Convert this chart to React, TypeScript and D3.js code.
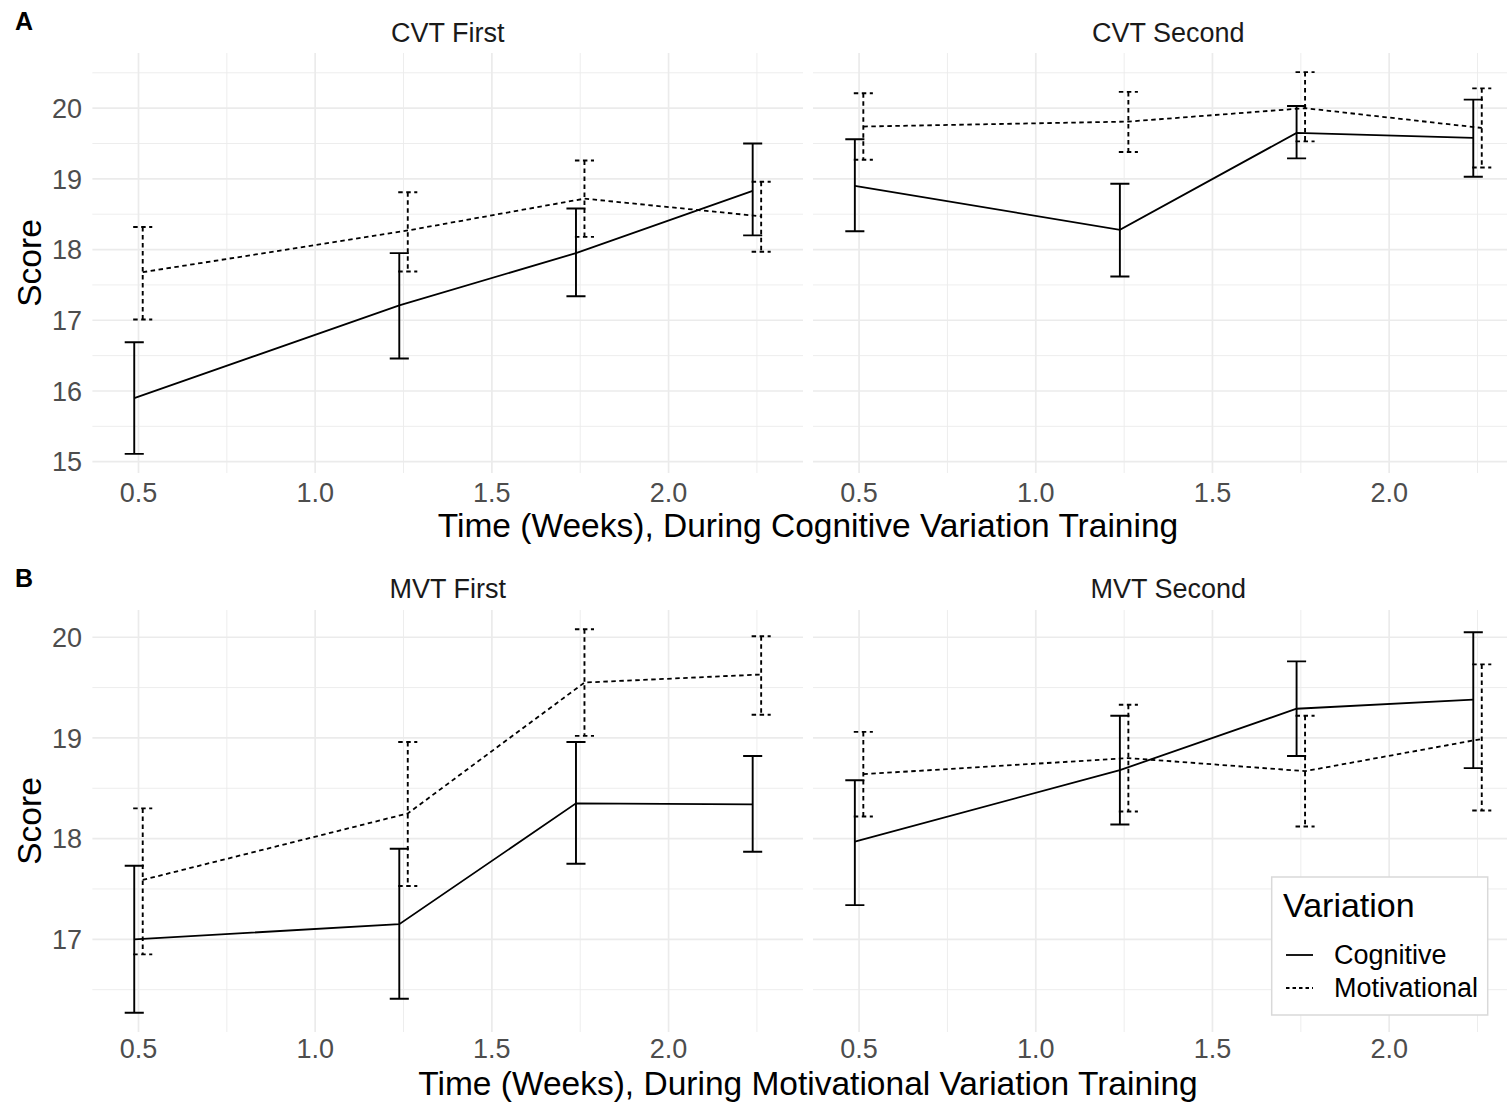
import React from "react";
import * as d3 from "d3";

// ---- Data ----
const times = [0.5, 1.25, 1.75, 2.25];

const cvtFirstCogMean = [15.9, 17.21, 17.95, 18.83];
const cvtFirstCogLow = [15.11, 16.46, 17.34, 18.2];
const cvtFirstCogHigh = [16.69, 17.95, 18.58, 19.5];
const cvtFirstMotMean = [17.68, 18.27, 18.72, 18.47];
const cvtFirstMotLow = [17.01, 17.69, 18.18, 17.97];
const cvtFirstMotHigh = [18.32, 18.81, 19.26, 18.96];

const cvtSecondCogMean = [18.9, 18.28, 19.65, 19.58];
const cvtSecondCogLow = [18.26, 17.62, 19.29, 19.03];
const cvtSecondCogHigh = [19.56, 18.93, 20.03, 20.12];
const cvtSecondMotMean = [19.74, 19.81, 20.0, 19.72];
const cvtSecondMotLow = [19.27, 19.38, 19.53, 19.16];
const cvtSecondMotHigh = [20.21, 20.23, 20.51, 20.28];

const mvtFirstCogMean = [17.0, 17.15, 18.35, 18.34];
const mvtFirstCogLow = [16.27, 16.41, 17.75, 17.87];
const mvtFirstCogHigh = [17.73, 17.9, 18.96, 18.82];
const mvtFirstMotMean = [17.59, 18.25, 19.55, 19.63];
const mvtFirstMotLow = [16.85, 17.53, 19.02, 19.23];
const mvtFirstMotHigh = [18.3, 18.96, 20.08, 20.01];

const mvtSecondCogMean = [17.97, 18.68, 19.29, 19.38];
const mvtSecondCogLow = [17.34, 18.14, 18.82, 18.7];
const mvtSecondCogHigh = [18.58, 19.22, 19.76, 20.05];
const mvtSecondMotMean = [18.64, 18.8, 18.67, 18.99];
const mvtSecondMotLow = [18.22, 18.27, 18.12, 18.28];
const mvtSecondMotHigh = [19.06, 19.33, 19.22, 19.73];

const seriesNames = ["Cognitive", "Motivational"];
const rowLabels = ["A", "B"];
const rowTitles = [
  "Time (Weeks), During Cognitive Variation Training",
  "Time (Weeks), During Motivational Variation Training",
];
const facetTitles = [
  ["CVT First", "CVT Second"],
  ["MVT First", "MVT Second"],
];
const legendTitle = "Variation";
const yTitle = "Score";

// ---- Layout ----
const W = 1507;
const H = 1104;
const FONT = "'Liberation Sans', Arial, Helvetica, sans-serif";
const panelX = [
  [92.4, 803],
  [813, 1523.6],
];
const rowY = [
  [53, 473],
  [610, 1032],
];
const tickBaseline = [502, 1058];
const titleBaseline = [537, 1095];
const DODGE = 0.012;
const CAP = 0.027;
const GRID = "#EBEBEB";

type Series = { mean: number[]; low: number[]; high: number[] };

const rows: Series[][][] = [
  [
    [
      { mean: cvtFirstCogMean, low: cvtFirstCogLow, high: cvtFirstCogHigh },
      { mean: cvtFirstMotMean, low: cvtFirstMotLow, high: cvtFirstMotHigh },
    ],
    [
      { mean: cvtSecondCogMean, low: cvtSecondCogLow, high: cvtSecondCogHigh },
      { mean: cvtSecondMotMean, low: cvtSecondMotLow, high: cvtSecondMotHigh },
    ],
  ],
  [
    [
      { mean: mvtFirstCogMean, low: mvtFirstCogLow, high: mvtFirstCogHigh },
      { mean: mvtFirstMotMean, low: mvtFirstMotLow, high: mvtFirstMotHigh },
    ],
    [
      { mean: mvtSecondCogMean, low: mvtSecondCogLow, high: mvtSecondCogHigh },
      { mean: mvtSecondMotMean, low: mvtSecondMotLow, high: mvtSecondMotHigh },
    ],
  ],
];

function expand(lo: number, hi: number): [number, number] {
  const p = (hi - lo) * 0.05;
  return [lo - p, hi + p];
}

const xDomain = expand(
  (d3.min(times) as number) - DODGE - CAP,
  (d3.max(times) as number) + DODGE + CAP
);

const dashFor = (si: number) => (si === 1 ? "4.5,3.5" : undefined);

function Panel({ row, col }: { row: number; col: number }) {
  const data = rows[row];
  const allLow = data.flat().flatMap((s) => s.low);
  const allHigh = data.flat().flatMap((s) => s.high);
  const yDomain = expand(d3.min(allLow) as number, d3.max(allHigh) as number);
  const [x0, x1] = panelX[col];
  const [y0, y1] = rowY[row];
  const x = d3.scaleLinear().domain(xDomain).range([x0, x1]);
  const y = d3.scaleLinear().domain(yDomain).range([y1, y0]);

  const xMajor = x.ticks(5);
  const xMinor = d3
    .range(Math.ceil(xDomain[0] * 4) / 4, xDomain[1], 0.25)
    .filter((v) => !xMajor.some((m) => Math.abs(m - v) < 1e-6));
  const yMajor = y.ticks(5).filter((v) => Number.isInteger(v));
  const yMinor = d3
    .range(Math.ceil(yDomain[0] * 2) / 2, yDomain[1], 0.5)
    .filter((v) => !yMajor.some((m) => Math.abs(m - v) < 1e-6));

  const series = data[col];

  return (
    <g>
      {/* grid */}
      {yMinor.map((v) => (
        <line key={"ym" + v} x1={x0} x2={x1} y1={y(v)} y2={y(v)} stroke={GRID} strokeWidth={0.9} />
      ))}
      {xMinor.map((v) => (
        <line key={"xm" + v} x1={x(v)} x2={x(v)} y1={y0} y2={y1} stroke={GRID} strokeWidth={0.9} />
      ))}
      {yMajor.map((v) => (
        <line key={"yM" + v} x1={x0} x2={x1} y1={y(v)} y2={y(v)} stroke={GRID} strokeWidth={1.7} />
      ))}
      {xMajor.map((v) => (
        <line key={"xM" + v} x1={x(v)} x2={x(v)} y1={y0} y2={y1} stroke={GRID} strokeWidth={1.7} />
      ))}

      {/* lines */}
      {series.map((s, si) => {
        const off = si === 0 ? -DODGE : DODGE;
        const l = d3
          .line<number>()
          .x((_, i) => x(times[i] + off))
          .y((d) => y(d));
        return (
          <path
            key={"l" + si}
            d={l(s.mean) || ""}
            fill="none"
            stroke="#000"
            strokeWidth={1.8}
            strokeDasharray={dashFor(si)}
          />
        );
      })}

      {/* error bars */}
      {series.map((s, si) => {
        const off = si === 0 ? -DODGE : DODGE;
        return times.map((t, i) => {
          const xc = x(t + off);
          const xl = x(t + off - CAP);
          const xr = x(t + off + CAP);
          const yt = y(s.high[i]);
          const yb = y(s.low[i]);
          const d = `M${xl},${yt}H${xr}M${xc},${yt}V${yb}M${xl},${yb}H${xr}`;
          return (
            <path
              key={"e" + si + "-" + i}
              d={d}
              fill="none"
              stroke="#000"
              strokeWidth={1.9}
              strokeDasharray={dashFor(si)}
            />
          );
        });
      })}

      {/* strip title */}
      <text
        x={(x0 + x1) / 2}
        y={row === 0 ? 41.7 : 598}
        textAnchor="middle"
        fontSize={27}
        fill="#1A1A1A"
        fontFamily={FONT}
      >
        {facetTitles[row][col]}
      </text>

      {/* x tick labels */}
      {xMajor.map((v) => (
        <text
          key={"xt" + v}
          x={x(v)}
          y={tickBaseline[row]}
          textAnchor="middle"
          fontSize={27}
          fill="#4D4D4D"
          fontFamily={FONT}
        >
          {d3.format(".1f")(v)}
        </text>
      ))}

      {/* y tick labels (left panel only) */}
      {col === 0 &&
        yMajor.map((v) => (
          <text
            key={"yt" + v}
            x={82}
            y={y(v)}
            dy="0.36em"
            textAnchor="end"
            fontSize={27}
            fill="#4D4D4D"
            fontFamily={FONT}
          >
            {v}
          </text>
        ))}
    </g>
  );
}

export default function App() {
  const legendX = 1271.7;
  const legendY = 877;
  return (
    <svg
      width={W}
      height={H}
      viewBox={`0 0 ${W} ${H}`}
      style={{ position: "absolute", left: 0, top: 0, background: "#fff" }}
    >
      <rect x={0} y={0} width={W} height={H} fill="#fff" />
      {[0, 1].map((r) => (
        <g key={"row" + r}>
          <Panel row={r} col={0} />
          <Panel row={r} col={1} />
          <text
            x={15}
            y={r === 0 ? 30 : 587}
            fontSize={25}
            fontWeight="bold"
            fontFamily={FONT}
            fill="#000"
          >
            {rowLabels[r]}
          </text>
          <text
            x={(panelX[0][0] + panelX[1][1]) / 2}
            y={titleBaseline[r]}
            textAnchor="middle"
            fontSize={33.5}
            fontFamily={FONT}
            fill="#000"
          >
            {rowTitles[r]}
          </text>
          <text
            transform={`translate(41,${(rowY[r][0] + rowY[r][1]) / 2}) rotate(-90)`}
            textAnchor="middle"
            fontSize={33.5}
            fontFamily={FONT}
            fill="#000"
          >
            {yTitle}
          </text>
        </g>
      ))}

      {/* legend */}
      <g>
        <rect
          x={legendX}
          y={legendY}
          width={216}
          height={138}
          fill="#fff"
          stroke="#D9D9D9"
          strokeWidth={1.5}
        />
        <text x={1283} y={917} fontSize={34} fontFamily={FONT} fill="#000">
          {legendTitle}
        </text>
        {seriesNames.map((name, si) => {
          const cy = si === 0 ? 955 : 988;
          return (
            <g key={name}>
              <line
                x1={1286}
                x2={1313}
                y1={cy}
                y2={cy}
                stroke="#000"
                strokeWidth={1.8}
                strokeDasharray={si === 1 ? "3.5,3" : undefined}
              />
              <text x={1334} y={cy + 9} fontSize={27} fontFamily={FONT} fill="#000">
                {name}
              </text>
            </g>
          );
        })}
      </g>
    </svg>
  );
}
